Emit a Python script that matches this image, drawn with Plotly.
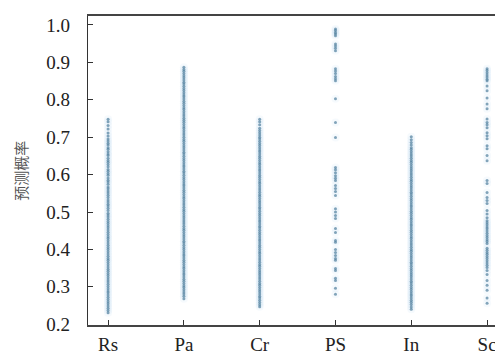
import plotly.graph_objects as go

categories = ["Rs", "Pa", "Cr", "PS", "In", "Sc"]

rs_vals = [0.748, 0.741, 0.731, 0.722, 0.711, 0.703, 0.695, 0.690, 0.684, 0.679, 0.672,
           0.668, 0.661, 0.655, 0.651, 0.644, 0.638, 0.633, 0.627, 0.621, 0.614, 0.609,
           0.603, 0.598, 0.591, 0.585, 0.580, 0.574, 0.567, 0.562, 0.556, 0.551, 0.545,
           0.539, 0.532, 0.527, 0.521, 0.516, 0.510, 0.504, 0.497, 0.492, 0.487, 0.481,
           0.475, 0.469, 0.463, 0.458, 0.452, 0.446, 0.440, 0.434, 0.429, 0.423, 0.417,
           0.411, 0.405, 0.400, 0.394, 0.388, 0.382, 0.376, 0.371, 0.365, 0.359, 0.353,
           0.347, 0.342, 0.336, 0.330, 0.324, 0.318, 0.313, 0.307, 0.301, 0.295, 0.289,
           0.284, 0.278, 0.272, 0.266, 0.260, 0.255, 0.249, 0.243, 0.237, 0.231]

pa_vals = [0.887, 0.881, 0.876, 0.870, 0.864, 0.859, 0.853, 0.847, 0.842, 0.836, 0.830,
           0.825, 0.819, 0.813, 0.808, 0.802, 0.796, 0.791, 0.785, 0.779, 0.774, 0.768,
           0.762, 0.757, 0.751, 0.745, 0.740, 0.734, 0.728, 0.723, 0.717, 0.711, 0.706,
           0.700, 0.694, 0.689, 0.683, 0.677, 0.672, 0.666, 0.660, 0.655, 0.649, 0.643,
           0.638, 0.632, 0.626, 0.621, 0.615, 0.609, 0.604, 0.598, 0.592, 0.587, 0.581,
           0.575, 0.570, 0.564, 0.558, 0.553, 0.547, 0.541, 0.536, 0.530, 0.524, 0.519,
           0.513, 0.507, 0.502, 0.496, 0.490, 0.485, 0.479, 0.473, 0.468, 0.462, 0.456,
           0.451, 0.445, 0.439, 0.434, 0.428, 0.422, 0.417, 0.411, 0.405, 0.400, 0.394,
           0.388, 0.383, 0.377, 0.371, 0.366, 0.360, 0.354, 0.349, 0.343, 0.337, 0.332,
           0.326, 0.320, 0.315, 0.309, 0.303, 0.298, 0.292, 0.286, 0.281, 0.275, 0.268]

cr_vals = [0.748, 0.741, 0.733, 0.724, 0.718, 0.712, 0.706, 0.700, 0.695, 0.689, 0.683,
           0.678, 0.672, 0.666, 0.661, 0.655, 0.649, 0.644, 0.638, 0.632, 0.627, 0.621,
           0.615, 0.610, 0.604, 0.598, 0.593, 0.587, 0.581, 0.576, 0.570, 0.564, 0.559,
           0.553, 0.547, 0.542, 0.536, 0.530, 0.525, 0.519, 0.513, 0.508, 0.502, 0.496,
           0.491, 0.485, 0.479, 0.474, 0.468, 0.462, 0.457, 0.451, 0.445, 0.440, 0.434,
           0.428, 0.423, 0.417, 0.411, 0.406, 0.400, 0.394, 0.389, 0.383, 0.377, 0.372,
           0.366, 0.360, 0.355, 0.349, 0.343, 0.338, 0.332, 0.326, 0.321, 0.315, 0.309,
           0.304, 0.298, 0.292, 0.287, 0.281, 0.275, 0.270, 0.264, 0.258, 0.252, 0.247]

ps_vals = [0.989, 0.985, 0.980, 0.976, 0.971, 0.949, 0.944, 0.938, 0.931, 0.883, 0.877,
           0.870, 0.862, 0.856, 0.851, 0.803, 0.739, 0.699, 0.619, 0.613, 0.605, 0.597,
           0.590, 0.584, 0.571, 0.563, 0.555, 0.544, 0.509, 0.500, 0.491, 0.483, 0.456,
           0.445, 0.424, 0.419, 0.400, 0.392, 0.384, 0.376, 0.371, 0.349, 0.344, 0.323,
           0.317, 0.296, 0.280]

in_vals = [0.701, 0.693, 0.686, 0.679, 0.672, 0.667, 0.661, 0.655, 0.650, 0.644, 0.638,
           0.633, 0.627, 0.621, 0.616, 0.610, 0.604, 0.599, 0.593, 0.587, 0.582, 0.576,
           0.570, 0.565, 0.559, 0.553, 0.548, 0.542, 0.536, 0.531, 0.525, 0.519, 0.514,
           0.508, 0.502, 0.497, 0.491, 0.485, 0.480, 0.474, 0.468, 0.463, 0.457, 0.451,
           0.446, 0.440, 0.434, 0.429, 0.423, 0.417, 0.412, 0.406, 0.400, 0.395, 0.389,
           0.383, 0.378, 0.372, 0.366, 0.361, 0.355, 0.349, 0.344, 0.338, 0.332, 0.327,
           0.321, 0.315, 0.310, 0.304, 0.298, 0.293, 0.287, 0.281, 0.276, 0.270, 0.264,
           0.259, 0.253, 0.246, 0.240]

sc_vals = [0.883, 0.878, 0.872, 0.866, 0.861, 0.855, 0.851, 0.837, 0.824, 0.805, 0.789,
           0.776, 0.749, 0.739, 0.733, 0.725, 0.712, 0.704, 0.696, 0.677, 0.669, 0.651,
           0.637, 0.584, 0.576, 0.552, 0.539, 0.531, 0.523, 0.504, 0.495, 0.485, 0.477,
           0.471, 0.466, 0.460, 0.455, 0.449, 0.443, 0.437, 0.432, 0.426, 0.421, 0.416,
           0.403, 0.398, 0.392, 0.387, 0.381, 0.376, 0.370, 0.364, 0.358, 0.352, 0.344,
           0.333, 0.317, 0.304, 0.291, 0.270, 0.256]

series = [rs_vals, pa_vals, cr_vals, ps_vals, in_vals, sc_vals]

xs, ys = [], []
for i, vals in enumerate(series):
    xs.extend([i] * len(vals))
    ys.extend(vals)

fig = go.Figure()
# soft halo
fig.add_trace(go.Scatter(x=xs, y=ys, mode="markers",
                         marker=dict(size=8, color="rgba(170,210,235,0.10)", line=dict(width=0)),
                         hoverinfo="skip", showlegend=False))
# points
fig.add_trace(go.Scatter(x=xs, y=ys, mode="markers",
                         marker=dict(size=3.0, color="rgba(85,130,160,0.72)", line=dict(width=0)),
                         showlegend=False))

font_serif = "Liberation Serif, Times New Roman, serif"

# page body has an 8px margin, so the figure is sized to fit the 503x358 window
fig.update_layout(
    width=495, height=350,
    margin=dict(l=80, r=0, t=8, b=33, autoexpand=False),
    paper_bgcolor="white", plot_bgcolor="white",
    font=dict(family=font_serif, size=19, color="#222"),
    xaxis=dict(
        range=[-0.265, 5.21], automargin=False,
        tickmode="array", tickvals=list(range(len(categories))), ticktext=categories,
        ticks="inside", ticklen=5, tickwidth=1, tickcolor="#333",
        showline=True, linecolor="#444", linewidth=1.5, mirror=True,
        showgrid=False, zeroline=False,
        ticklabelstandoff=1,
        tickfont=dict(family=font_serif, size=19, color="#222"),
    ),
    yaxis=dict(
        range=[0.198, 1.024], automargin=False,
        tickmode="array", tickvals=[0.2, 0.3, 0.4, 0.5, 0.6, 0.7, 0.8, 0.9, 1.0],
        ticktext=["0.2", "0.3", "0.4", "0.5", "0.6", "0.7", "0.8", "0.9", "1.0"],
        ticks="inside", ticklen=5, tickwidth=1, tickcolor="#333",
        showline=True, linecolor="#333", linewidth=1.2,
        showgrid=False, zeroline=False,
        ticklabelstandoff=13,
        tickfont=dict(family=font_serif, size=19, color="#222"),
    ),
    annotations=[dict(
        text="预测概率", xref="paper", yref="paper",
        x=-0.163, y=0.50, xanchor="center", yanchor="middle",
        textangle=-90, showarrow=False,
        font=dict(family="Noto Sans CJK SC", size=15, color="#555"),
    )],
)

fig.write_html("out.html")
